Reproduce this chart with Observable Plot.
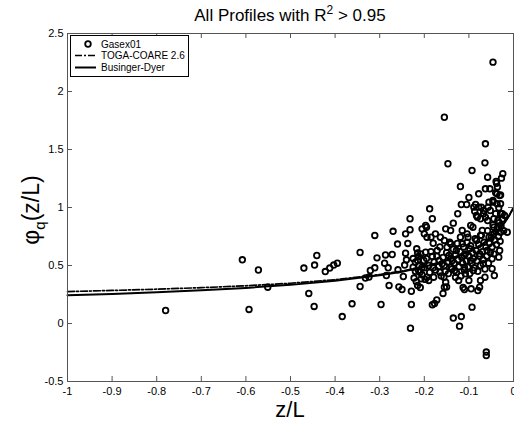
<!DOCTYPE html>
<html><head><meta charset="utf-8">
<script src="https://cdn.jsdelivr.net/npm/d3@7"></script>
<script src="https://cdn.jsdelivr.net/npm/@observablehq/plot@0.6"></script>
<style>
body{margin:0;background:#fff;}
svg{font-family:Arial,"Liberation Sans",sans-serif;}
</style>
</head><body><div id="chart"></div>
<script>
// Gasex01 profiles: z/L and phi_q(z/L)
const zeta = [
-0.780,-0.608,-0.593,-0.572,-0.551,-0.470,-0.459,-0.447,-0.446,-0.441,-0.422,-0.412,-0.403,-0.395,-0.384,-0.362,-0.344,-0.344,-0.332,-0.324,
-0.321,-0.311,-0.306,-0.297,-0.289,-0.287,-0.281,-0.285,-0.279,-0.272,-0.270,-0.260,-0.259,-0.257,-0.250,-0.247,-0.242,-0.242,-0.240,-0.244,
-0.237,-0.232,-0.232,-0.229,-0.229,-0.231,-0.225,-0.223,-0.217,-0.215,-0.213,-0.215,-0.220,-0.210,-0.207,-0.209,-0.205,-0.201,-0.200,-0.195,
-0.197,-0.194,-0.190,-0.188,-0.182,-0.185,-0.180,-0.182,-0.180,-0.179,-0.182,-0.177,-0.172,-0.171,-0.167,-0.165,-0.160,-0.158,-0.156,-0.155,
-0.152,-0.152,-0.150,-0.149,-0.145,-0.141,-0.140,-0.137,-0.135,-0.135,-0.132,-0.130,-0.128,-0.125,-0.123,-0.121,-0.119,-0.117,-0.117,-0.115,
-0.115,-0.113,-0.111,-0.110,-0.108,-0.105,-0.100,-0.102,-0.100,-0.098,-0.096,-0.095,-0.093,-0.091,-0.090,-0.087,-0.085,-0.083,-0.081,-0.080,
-0.078,-0.076,-0.074,-0.072,-0.070,-0.068,-0.067,-0.064,-0.063,-0.061,-0.061,-0.059,-0.058,-0.055,-0.053,-0.052,-0.048,-0.046,-0.044,-0.043,
-0.040,-0.038,-0.037,-0.035,-0.031,-0.029,-0.025,-0.020,-0.014,-0.046,-0.155,-0.063,-0.147,-0.064,-0.093,-0.024,-0.058,-0.027,-0.039,-0.036,
-0.029,-0.040,-0.046,-0.037,-0.078,-0.057,-0.055,-0.089,-0.033,-0.067,-0.063,-0.044,-0.029,-0.083,-0.074,-0.096,-0.197,-0.205,-0.194,-0.175,
-0.164,-0.141,-0.119,-0.104,-0.074,-0.044,-0.029,-0.048,-0.033,-0.031,-0.155,-0.110,-0.076,-0.311,-0.213,-0.215,
-0.195,-0.190,-0.188,-0.185,-0.178,-0.175,-0.172,-0.168,-0.165,-0.162,-0.158,-0.155,-0.153,-0.150,-0.148,-0.146,-0.143,-0.140,-0.138,-0.135,
-0.133,-0.130,-0.128,-0.126,-0.124,-0.122,-0.120,-0.118,-0.116,-0.114,-0.112,-0.110,-0.108,-0.106,-0.104,-0.102,-0.100,-0.098,-0.096,-0.094,
-0.092,-0.090,-0.088,-0.086,-0.084,-0.082,-0.080,-0.078,-0.076,-0.074,-0.072,-0.070,-0.068,-0.066,-0.064,-0.062,-0.060,-0.058,-0.056,-0.054,
-0.052,-0.050,-0.048,-0.046,-0.044,-0.042,-0.040,-0.038,-0.036,-0.034,-0.032,-0.030,-0.028,-0.025,-0.022,
-0.225,-0.220,-0.218,-0.212,-0.208,-0.205,-0.200,-0.198
];
const phi = [
0.112,0.549,0.121,0.461,0.313,0.478,0.259,0.147,0.504,0.586,0.448,0.478,0.504,0.520,0.060,0.170,0.612,0.319,0.392,0.401,
0.457,0.759,0.566,0.164,0.520,0.591,0.480,0.414,0.328,0.595,0.795,0.685,0.463,0.316,0.293,0.405,0.773,0.606,0.549,0.504,
0.690,0.808,0.903,0.278,0.164,-0.041,0.485,0.392,0.644,0.608,0.578,0.543,0.528,0.442,0.385,0.310,0.485,0.543,0.773,0.830,
0.615,0.399,0.371,0.989,0.903,0.744,0.692,0.578,0.480,0.399,0.161,0.172,0.203,0.629,0.543,0.442,0.515,0.259,0.399,0.716,
0.816,0.356,0.315,0.658,0.586,0.802,0.485,0.543,0.865,0.047,0.457,0.399,0.629,0.946,0.371,-0.023,1.181,0.060,1.026,0.802,
0.687,0.310,0.586,0.485,0.428,1.026,1.086,0.744,0.371,0.644,0.543,0.299,0.141,0.830,0.457,0.968,1.026,0.716,0.916,0.284,
1.118,0.601,0.371,1.003,0.802,0.515,0.946,0.399,1.161,-0.276,-0.246,0.629,0.888,0.744,1.161,0.974,0.558,1.060,0.830,0.414,
0.946,1.209,1.118,0.888,1.103,1.032,0.946,0.931,0.787,2.253,1.778,1.549,1.377,1.385,1.319,1.291,1.261,1.253,1.224,1.177,
1.108,1.127,1.046,1.032,1.003,1.003,1.046,1.003,0.997,0.974,0.916,0.903,0.946,0.931,0.903,0.845,0.845,0.816,0.744,0.773,
0.744,0.687,0.744,0.773,0.759,0.773,0.787,0.472,0.572,0.629,0.313,0.293,0.313,0.480,0.457,0.328,
0.56,0.50,0.44,0.62,0.53,0.46,0.58,0.49,0.66,0.41,0.57,0.50,0.45,0.61,0.53,0.43,0.70,0.56,0.47,0.64,
0.52,0.59,0.44,0.69,0.55,0.49,0.62,0.41,0.57,0.52,0.66,0.46,0.60,0.54,0.70,0.49,0.58,0.43,0.67,0.52,
0.61,0.56,0.48,0.73,0.63,0.54,0.45,0.68,0.58,0.50,0.76,0.62,0.55,0.70,0.47,0.66,0.58,0.80,0.52,0.69,
0.61,0.74,0.66,0.85,0.60,0.72,0.79,0.68,0.82,0.75,0.87,0.71,0.84,0.90,0.80,
0.56,0.45,0.36,0.50,0.60,0.42,0.48,0.38
];
// Curves
const curveZeta = [-1,-0.9,-0.8,-0.7,-0.6,-0.5,-0.4,-0.3,-0.25,-0.2,-0.15,-0.1,-0.07,-0.05,-0.03,-0.02,-0.01,0];
const busingerDyer = [0.243,0.255,0.269,0.286,0.307,0.333,0.368,0.415,0.447,0.488,0.542,0.620,0.682,0.745,0.822,0.870,0.928,1.0];
const togaCoare = [0.275,0.285,0.296,0.309,0.325,0.347,0.378,0.422,0.452,0.492,0.545,0.622,0.683,0.746,0.822,0.870,0.928,1.0];
const xTicks = [-1,-0.9,-0.8,-0.7,-0.6,-0.5,-0.4,-0.3,-0.2,-0.1,0];
const yTicks = [-0.5,0,0.5,1,1.5,2,2.5];
const legendLabels = ["Gasex01","TOGA-COARE 2.6","Businger-Dyer"];

const points = zeta.map((z,i)=>({z, p: phi[i]}));
const curves = curveZeta.map((z,i)=>({z, bd: busingerDyer[i], tc: togaCoare[i]}));
const fmt = d => String(+(+d).toFixed(1));

const svg = Plot.plot({
  width:514, height:421,
  marginLeft:67, marginRight:1, marginTop:33, marginBottom:40,
  style:{fontFamily:'Arial,"Liberation Sans",sans-serif', fontSize:"11px", color:"#000", background:"#fff", overflow:"visible"},
  x:{domain:[-1,0]},
  y:{domain:[-0.5,2.5]},
  marks:[
    Plot.dot(points,{x:"z",y:"p",r:2.8,stroke:"#000",strokeWidth:1.8,fill:"none"}),
    Plot.line(curves,{x:"z",y:"tc",stroke:"#000",strokeWidth:1.7,strokeDasharray:"7,2,2,2"}),
    Plot.line(curves,{x:"z",y:"bd",stroke:"#000",strokeWidth:2}),
    Plot.ruleX(xTicks,{insetTop:343,stroke:"#555"}),
    Plot.ruleX(xTicks,{insetBottom:343,stroke:"#555"}),
    Plot.ruleY(yTicks,{insetRight:441,stroke:"#555"}),
    Plot.ruleY(yTicks,{insetLeft:441,stroke:"#555"}),
    Plot.frame({stroke:"#555"}),
    Plot.axisX(xTicks,{anchor:"bottom",tickSize:0,tickPadding:6,tickFormat:fmt,label:null,fill:"#000"}),
    Plot.axisY(yTicks,{anchor:"left",tickSize:0,tickPadding:4,tickFormat:fmt,label:null,fill:"#000"})
  ]
});
document.getElementById("chart").appendChild(svg);

const s = d3.select(svg);
// Title
const t = s.append("text").attr("x",290).attr("y",21).attr("text-anchor","middle")
  .attr("font-size",17).attr("fill","#000");
t.append("tspan").text("All Profiles with R");
t.append("tspan").attr("font-size",12).attr("dy",-7).text("2");
t.append("tspan").attr("dy",7).text(" > 0.95");
// X label
s.append("text").attr("x",290).attr("y",417).attr("text-anchor","middle")
  .attr("font-size",22).attr("fill","#000").text("z/L");
// Y label
const yl = s.append("text").attr("transform","translate(39,210) rotate(-90)")
  .attr("text-anchor","middle").attr("font-size",23).attr("fill","#000");
yl.append("tspan").text("φ");
yl.append("tspan").attr("font-size",15).attr("dy",6).text("q");
yl.append("tspan").attr("dy",-6).text("(z/L)");
// Legend
const lg = s.append("g").attr("text-anchor","start");
lg.append("rect").attr("x",70.5).attr("y",35.5).attr("width",118).attr("height",41)
  .attr("fill","#fff").attr("stroke","#000").attr("stroke-width",1);
const rows = [44,55.5,67.5];
lg.append("circle").attr("cx",88).attr("cy",rows[0]).attr("r",2.8)
  .attr("fill","none").attr("stroke","#000").attr("stroke-width",1.8);
lg.append("line").attr("x1",75).attr("x2",96).attr("y1",rows[1]).attr("y2",rows[1])
  .attr("stroke","#000").attr("stroke-width",1.7).attr("stroke-dasharray","7,2,2,2");
lg.append("line").attr("x1",75).attr("x2",96).attr("y1",rows[2]).attr("y2",rows[2])
  .attr("stroke","#000").attr("stroke-width",2);
legendLabels.forEach((l,i)=>{
  lg.append("text").attr("x",101).attr("y",rows[i]).attr("dy","0.35em")
    .attr("text-anchor","start").attr("font-size",10).attr("fill","#000").text(l);
});
</script>
</body></html>
